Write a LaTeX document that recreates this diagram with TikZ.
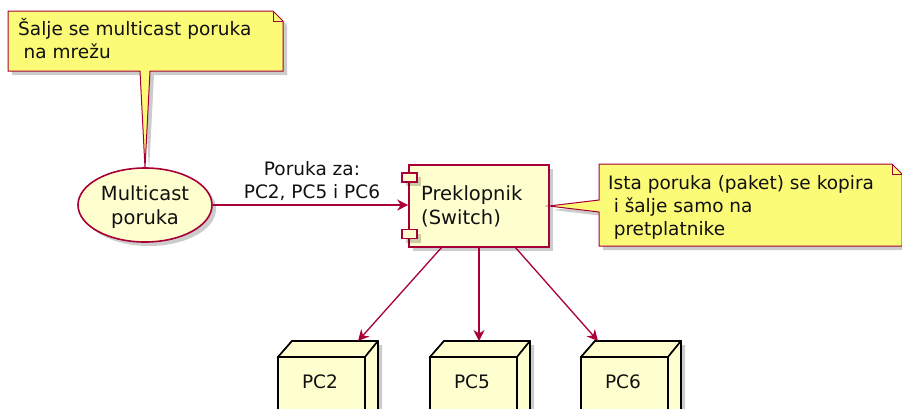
\documentclass[tikz,border=0pt]{standalone}
\usepackage{fontspec}
\setmainfont{DejaVu Sans}
\usetikzlibrary{shapes.geometric,arrows.meta,shadows}
\definecolor{pbord}{HTML}{A80036}
\definecolor{pfill}{HTML}{FEFECE}
\definecolor{nfill}{HTML}{FBFB77}
\definecolor{ptext}{HTML}{111111}
\tikzset{
 shad/.style={drop shadow={shadow xshift=4pt,shadow yshift=-4pt,fill=black,opacity=0.2}},
 notebox/.style={draw=pbord,fill=nfill,line width=1pt,line join=miter,shad},
 foldline/.style={draw=pbord,line width=1pt},
 elem/.style={draw=pbord,fill=pfill,line width=1.6pt,shad},
 pcface/.style={draw=black,fill=pfill,line width=1.6pt,line join=round},
 conn/.style={draw=pbord,line width=1.3pt,-{Stealth[length=11pt,width=11pt,inset=3.5pt]}},
 txt/.style={inner sep=0pt,text=ptext,font=\fontsize{18.5}{23}\selectfont},
 bigtxt/.style={inner sep=0pt,text=ptext,font=\fontsize{19.5}{23.5}\selectfont},
}
\newcommand\pcbox[3]{%
 \path[pcface,shad] (#2,357) -- (#2+14,341) -- (#2+100,341) -- (#2+100,410) -- (#2+87,420) -- (#2,420) -- cycle;
 \draw[pcface] (#2,357) rectangle (#2+87,420);
 \draw[pcface] (#2,357) -- (#2+14,341) -- (#2+100,341) -- (#2+87,357) -- cycle;
 \draw[pcface] (#2+87,357) -- (#2+100,341) -- (#2+100,420) -- (#2+87,420) -- cycle;
 \node[txt] (#1) at (#2+42,382) {#3};
}
\begin{document}
\begin{tikzpicture}[x=1pt,y=-1pt]
\useasboundingbox (0,0) rectangle (902,408);
\clip (0,0) rectangle (902,408);
% note 1
\path[notebox] (8,11) -- (273,11) -- (283,21) -- (283,71) -- (150,71) -- (145,168) -- (140,71) -- (8,71) -- cycle;
\draw[foldline] (273,11) -- (273,21) -- (283,21);
\node[txt,anchor=west,align=left] (n1) at (18,38.5) {Šalje se multicast poruka\\\hspace*{0.3em}na mrežu};
% multicast ellipse
\node[elem,ellipse,minimum width=134pt,minimum height=74pt,inner sep=0pt] (mc) at (145,205) {};
\node[bigtxt,align=center] (mct) at (145,207) {Multicast\\poruka};
% switch component
\node[elem,rectangle,minimum width=140pt,minimum height=82pt,inner sep=0pt] (sw) at (479,206) {};
\node[elem,rectangle,minimum width=15pt,minimum height=9pt,inner sep=0pt] (swa) at (409.5,177.5) {};
\node[elem,rectangle,minimum width=15pt,minimum height=9pt,inner sep=0pt] (swb) at (409.5,234) {};
\node[bigtxt,anchor=west,align=left] (swt) at (421,206.5) {Preklopnik\\(Switch)};
% arrow to switch
\draw[conn] (mc.east) -- (mc.east -| sw.west);
\node[txt,align=center] (lbl) at (312,181) {Poruka za:\\PC2, PC5 i PC6};
% note 2
\path[notebox] (599,164) -- (892,164) -- (902,174) -- (902,246) -- (599,246) -- (599,212) -- (549,206) -- (599,200) -- cycle;
\draw[foldline] (892,164) -- (892,174) -- (902,174);
\node[txt,anchor=west,align=left] (n2) at (608,207.5) {Ista poruka (paket) se kopira\\\hspace*{0.3em}i šalje samo na\\\hspace*{0.3em}pretplatnike};
% PCs
\pcbox{pc2}{278}{PC2}
\pcbox{pc5}{430}{PC5}
\pcbox{pc6}{581}{PC6}
\coordinate (s2) at (442,247);
\coordinate (s5) at (479,247);
\coordinate (s6) at (515,247);
\coordinate (t2) at (358,341);
\coordinate (t5) at (479,341);
\coordinate (t6) at (598,341);
\draw[conn] (s2) -- (t2);
\draw[conn] (s5) -- (t5);
\draw[conn] (s6) -- (t6);
\end{tikzpicture}
\end{document}
